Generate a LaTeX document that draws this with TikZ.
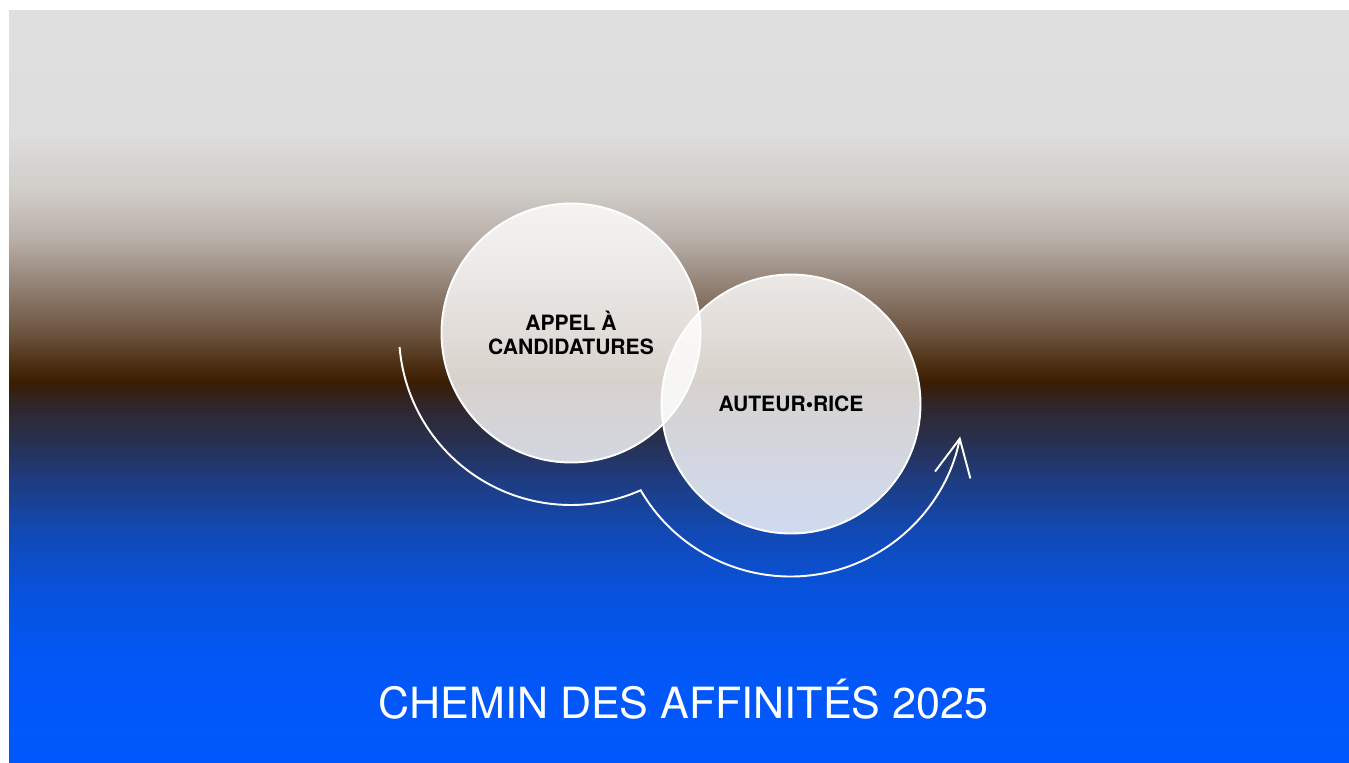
\documentclass[tikz,border=0pt]{standalone}
\usepackage{fontspec}
\setmainfont{TeX Gyre Heros}
\usetikzlibrary{arrows.meta,calc}

\definecolor{fondA}{HTML}{DFDFDF}
\definecolor{fondB}{HTML}{DEDEDE}
\definecolor{fondC}{HTML}{D0CDC9}
\definecolor{fondD}{HTML}{B8AEA7}
\definecolor{fondE}{HTML}{8E7C6E}
\definecolor{fondF}{HTML}{6A523C}
\definecolor{fondG}{HTML}{503418}
\definecolor{fondH}{HTML}{3B1D02}
\definecolor{fondI}{HTML}{30262C}
\definecolor{fondJ}{HTML}{28304F}
\definecolor{fondK}{HTML}{1E3C80}
\definecolor{fondL}{HTML}{1249B3}
\definecolor{fondM}{HTML}{0852DC}
\definecolor{fondN}{HTML}{0257F6}
\definecolor{fondO}{HTML}{0058FD}

\begin{document}
\begin{tikzpicture}[
	x=0.02cm, y=0.02cm,
	bulle/.style = {
		circle, draw=white, line width=1.1pt,
		fill=white, fill opacity=0.8, text opacity=1,
		minimum size=5.18cm, inner sep=0pt,
		align=center, text=black,
		font=\fontsize{12}{13.6}\selectfont\bfseries,
	},
	fleche/.style = {
		draw=white, line width=1.1pt,
		-{Straight Barb[length=0.74cm,width=0.72cm]},
	},
]

\useasboundingbox (0,0) rectangle (1349,-762);
\fill[white] (0,0) rectangle (1349,-762);

% fond en degrade
\foreach \ya/\ca/\yb/\cb in {10/fondA/130/fondB, 130/fondB/190/fondC,
	190/fondC/240/fondD, 240/fondD/290/fondE, 290/fondE/335/fondF,
	335/fondF/360/fondG, 360/fondG/382/fondH, 382/fondH/405/fondI,
	405/fondI/440/fondJ, 440/fondJ/480/fondK, 480/fondK/530/fondL,
	530/fondL/590/fondM, 590/fondM/660/fondN, 660/fondN/762/fondO}
	\shade[top color=\ca, bottom color=\cb] (9,-\ya) rectangle (1349,-\yb-0.5);

% bulles
\node[bulle] (appel) at (571,-333) {APPEL À\\CANDIDATURES};
\node[bulle] (auteur) at (791,-404) {AUTEUR\textbullet RICE};

% fleche autour des bulles
\coordinate (depart) at ($(appel)+(184.7:172)$);
\draw[fleche] (depart) arc[start angle=184.7, end angle=293.9, radius=172]
	arc[start angle=210.1, end angle=349, radius=173];

% titre
\node[anchor=base, text=white, font=\fontsize{24.5}{29}\selectfont]
	(titre) at (683.5,-718) {CHEMIN DES AFFINITÉS 2025};

\end{tikzpicture}
\end{document}
